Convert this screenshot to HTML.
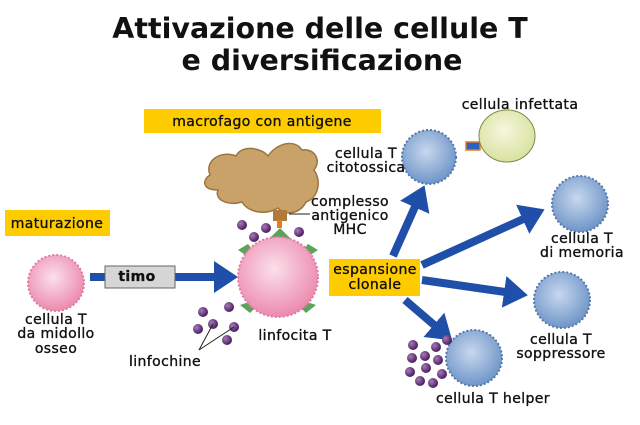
<!DOCTYPE html>
<html><head><meta charset="utf-8"><style>
body{margin:0;background:#fff}
svg{display:block}
text{font-family:"DejaVu Sans","Liberation Sans",sans-serif;fill:#111}
.l{font-size:14px;letter-spacing:0.4px;stroke:#111;stroke-width:0.35}
</style></head><body>
<svg width="640" height="425" viewBox="0 0 640 425" xmlns="http://www.w3.org/2000/svg">
<defs>
<radialGradient id="bl" cx="45%" cy="40%" r="60%"><stop offset="0" stop-color="#c8d8ee"/><stop offset="1" stop-color="#6f95c8"/></radialGradient>
<radialGradient id="pk" cx="45%" cy="40%" r="60%"><stop offset="0" stop-color="#fbe0ea"/><stop offset="1" stop-color="#ec8aae"/></radialGradient>
<radialGradient id="yl" cx="45%" cy="40%" r="60%"><stop offset="0" stop-color="#f4f7dc"/><stop offset="1" stop-color="#d9e2a0"/></radialGradient>
<radialGradient id="pp" cx="35%" cy="35%" r="65%"><stop offset="0" stop-color="#a77ab8"/><stop offset="1" stop-color="#4a1f5e"/></radialGradient>
<marker id="ah" markerWidth="4" markerHeight="4" refX="1" refY="2" orient="auto" markerUnits="strokeWidth"><path d="M0,0 L3,2 L0,4 z" fill="#1f4fa8"/></marker>
</defs>
<text x="320" y="38" font-size="28.5" font-weight="bold" text-anchor="middle">Attivazione delle cellule T</text>
<text x="322" y="70" font-size="28.5" font-weight="bold" text-anchor="middle">e diversificazione</text>

<rect x="144" y="109" width="237" height="24" fill="#ffcc00"/>
<text x="262" y="126" class="l" text-anchor="middle">macrofago con antigene</text>
<rect x="5" y="210" width="105" height="26" fill="#ffcc00"/>
<text x="57" y="228" class="l" text-anchor="middle">maturazione</text>

<circle cx="56" cy="283" r="28" fill="url(#pk)" stroke="#e07aa0" stroke-width="2" stroke-dasharray="2 2"/>
<text class="l" text-anchor="middle"><tspan x="56" y="324">cellula T</tspan><tspan x="56" y="338">da midollo</tspan><tspan x="56" y="353">osseo</tspan></text>

<line x1="90" y1="277" x2="222" y2="277" stroke="#1f4fa8" stroke-width="8" marker-end="url(#ah)"/>
<rect x="105" y="266" width="70" height="22" fill="#d6d6d6" stroke="#666"/>
<text x="137" y="281" class="l" font-weight="bold" text-anchor="middle">timo</text>

<path d="M210,175 C204,160 222,150 236,156 C242,144 262,148 268,156 C276,144 294,138 302,150 C314,148 322,160 314,170 C322,182 318,198 306,202 C300,214 285,216 278,208 C265,216 248,212 242,202 C228,206 214,200 218,190 C202,190 202,180 210,175 Z" fill="#c9a26a" stroke="#9c7440" stroke-width="1.5"/>
<rect x="273" y="210" width="14" height="11" fill="#b07a3a"/>
<rect x="277" y="220" width="5" height="8" fill="#e87b1d"/>
<line x1="289" y1="214" x2="310" y2="214" stroke="#222"/>
<text class="l" text-anchor="middle"><tspan x="350" y="206">complesso</tspan><tspan x="350" y="220">antigenico</tspan><tspan x="350" y="234">MHC</tspan></text>

<g fill="#5aa35a">
<path d="M270,238 l10,-10 l10,10 l-4,4 h-12 z"/>
<path d="M238,250 l10,-6 l8,10 l-6,4 z"/>
<path d="M318,250 l-10,-6 l-8,10 l6,4 z"/>
<path d="M240,305 l10,8 l8,-8 l-6,-4 z"/>
<path d="M316,305 l-10,8 l-8,-8 l6,-4 z"/>
</g>
<circle cx="278" cy="277" r="40" fill="url(#pk)" stroke="#e07aa0" stroke-width="2" stroke-dasharray="2 2"/>
<text x="295" y="340" class="l" text-anchor="middle">linfocita T</text>

<g fill="url(#pp)">
<circle cx="242" cy="225" r="5"/><circle cx="254" cy="237" r="5"/><circle cx="266" cy="228" r="5"/><circle cx="299" cy="232" r="5"/>
<circle cx="203" cy="312" r="5"/><circle cx="229" cy="307" r="5"/><circle cx="213" cy="324" r="5"/><circle cx="198" cy="329" r="5"/><circle cx="234" cy="327" r="5"/><circle cx="227" cy="340" r="5"/>
</g>
<polyline points="213,324 199,350 234,327" fill="none" stroke="#222"/>
<text x="165" y="366" class="l" text-anchor="middle">linfochine</text>

<g stroke="#1f4fa8" stroke-width="8" marker-end="url(#ah)">
<line x1="393" y1="256" x2="418" y2="200"/>
<line x1="422" y1="265" x2="530" y2="216"/>
<line x1="422" y1="280" x2="512" y2="293"/>
<line x1="405" y1="300" x2="440" y2="330"/>
</g>
<rect x="329" y="259" width="91" height="37" fill="#ffcc00"/>
<text class="l" text-anchor="middle"><tspan x="375" y="274">espansione</tspan><tspan x="375" y="289">clonale</tspan></text>

<rect x="466" y="142" width="14" height="8" fill="#2a63c0" stroke="#e87b1d" stroke-width="1.5"/>
<ellipse cx="507" cy="136" rx="28" ry="26" fill="url(#yl)" stroke="#7a8a4a"/>
<g fill="url(#bl)" stroke="#5577a8" stroke-width="2" stroke-dasharray="2 2">
<circle cx="429" cy="157" r="27"/>
<circle cx="580" cy="204" r="28"/>
<circle cx="562" cy="300" r="28"/>
<circle cx="474" cy="358" r="28"/>
</g>
<g fill="url(#pp)">
<circle cx="436" cy="347" r="5"/><circle cx="425" cy="356" r="5"/><circle cx="412" cy="358" r="5"/><circle cx="438" cy="360" r="5"/><circle cx="426" cy="368" r="5"/><circle cx="410" cy="372" r="5"/><circle cx="442" cy="374" r="5"/><circle cx="420" cy="381" r="5"/><circle cx="433" cy="383" r="5"/><circle cx="447" cy="340" r="5"/><circle cx="413" cy="345" r="5"/>
</g>
<text x="520" y="109" class="l" text-anchor="middle">cellula infettata</text>
<text class="l" text-anchor="middle"><tspan x="366" y="158">cellula T</tspan><tspan x="366" y="172">citotossica</tspan></text>
<text class="l" text-anchor="middle"><tspan x="582" y="243">cellula T</tspan><tspan x="582" y="257">di memoria</tspan></text>
<text class="l" text-anchor="middle"><tspan x="561" y="344">cellula T</tspan><tspan x="561" y="358">soppressore</tspan></text>
<text x="493" y="403" class="l" text-anchor="middle">cellula T helper</text>
</svg>
</body></html>
